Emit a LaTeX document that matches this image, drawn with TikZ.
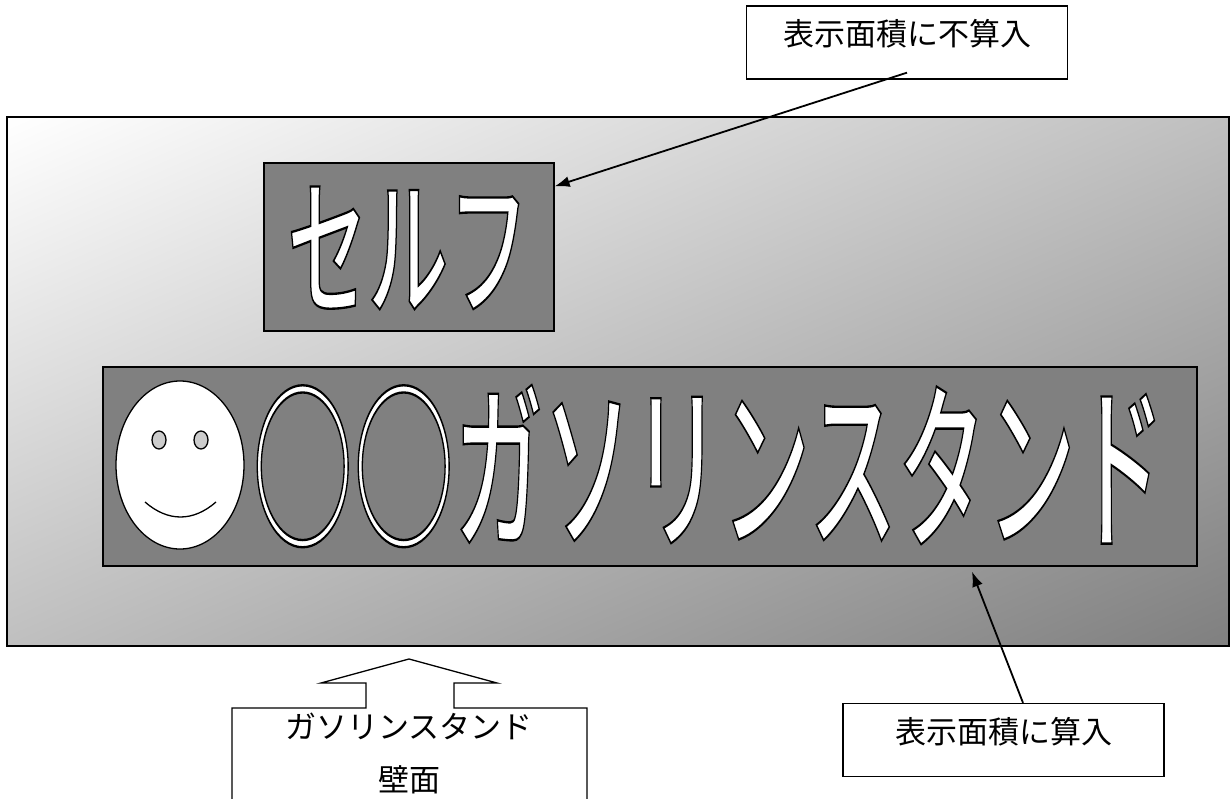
\documentclass[tikz,border=0pt]{standalone}
\usepackage{fontspec}
\setmainfont{Noto Sans CJK JP}
\newfontfamily\jpmed{Noto Sans CJK JP}[UprightFont={* Medium}]
\usetikzlibrary{arrows.meta,calc}
\newcommand\outl[1]{\special{pdf:literal direct 2 Tr 1.3 w 0 G}#1\special{pdf:literal direct 0 Tr}}
\pgfdeclarefunctionalshading{walldiag}{\pgfpointorigin}{\pgfpoint{100bp}{100bp}}{}{
  exch 25 sub exch 75 exch sub add 100 div
  dup 0 lt {pop 0} if dup 1 gt {pop 1} if
  0.5 mul 1 exch sub dup dup
}
\begin{document}
\begin{tikzpicture}[x=1pt,y=-1pt,
  panel/.style={draw=black, line width=1.3pt, fill=gray, inner sep=0pt},
  callbox/.style={draw=black, line width=1.3pt, fill=white, minimum width=321pt, minimum height=73pt, inner sep=0pt, font=\fontsize{31}{37}\selectfont, text height=25pt, text depth=18pt},
  conn/.style={line width=1.8pt, -{Latex[length=15pt,width=11pt]}},
  bigtext/.style={text=white, inner sep=0pt},
  faceline/.style={draw=black, line width=1.3pt}
]
\useasboundingbox (0,0) rectangle (1230,799);
% wall
\node[draw=black, line width=1.3pt, shading=walldiag, minimum width=1222pt, minimum height=529pt, inner sep=0pt] (wall) at (618,381.5) {};
% self panel
\node[panel, minimum width=290pt, minimum height=168pt] (selfbox) at (409,247) {};
\node[bigtext, font=\jpmed\fontsize{84}{84}\selectfont] (selftext) at (408,248) {\scalebox{0.96}[1.8]{\outl{セルフ}}};
% main panel
\node[panel, minimum width=1094pt, minimum height=199pt] (bigbox) at (650,466.5) {};
\draw[faceline, fill=white] (180,465) ellipse [x radius=64, y radius=84];
\draw[faceline, fill=black!20] (159,440) ellipse [x radius=7, y radius=9];
\draw[faceline, fill=black!20] (201,440) ellipse [x radius=7, y radius=9];
\draw[faceline] (145,502) .. controls (168,522) and (193,522) .. (216,502);
\node[bigtext, font=\jpmed\fontsize{100}{100}\selectfont, anchor=west] (bigtext) at (252,466) {\scalebox{1.01}[1.8]{\outl{○○}}\scalebox{0.89}[1.8]{\outl{ガソリンスタンド}}};
% labels
\node[callbox] (lab1) at (907,42.5) {表示面積に不算入};
\node[callbox] (lab2) at (1003.5,740) {表示面積に算入};
% up arrow callout
\draw[line width=1.3pt, fill=white] (232,800) -- (232,708) -- (366,708) -- (366,683) -- (321,683) -- (409,659) -- (497,683) -- (454,683) -- (454,708) -- (587,708) -- (587,800);
\node[font=\fontsize{31}{53}\selectfont, align=center] (walltext) at (409,753) {ガソリンスタンド\\壁面};
% connectors
\draw[conn] ([yshift=7pt]lab1.south) -- ([yshift=-24pt]selfbox.north east);
\draw[conn] ([xshift=19.5pt]lab2.north) -- ([xshift=322pt,yshift=-5pt]bigbox.south);
\end{tikzpicture}
\end{document}
